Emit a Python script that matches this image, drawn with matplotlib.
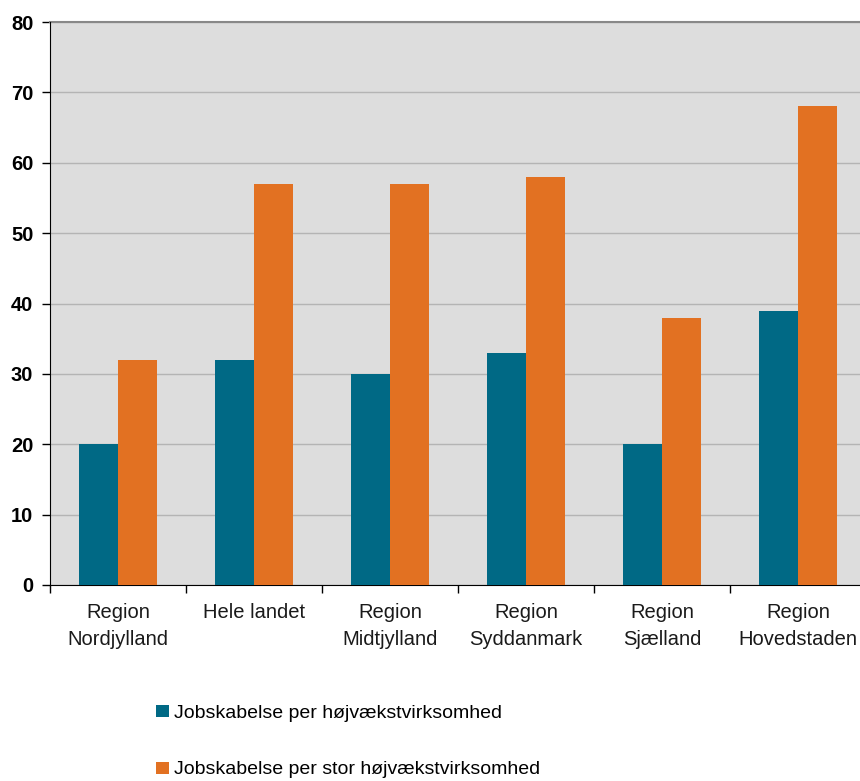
import matplotlib
matplotlib.use("Agg")
import matplotlib.pyplot as plt
import numpy as np

categories = ["Region\nNordjylland", "Hele landet", "Region\nMidtjylland",
              "Region\nSyddanmark", "Region\nSjælland", "Region\nHovedstaden"]
per_hoejvaekst = [20, 32, 30, 33, 20, 39]
per_stor_hoejvaekst = [32, 57, 57, 58, 38, 68]
series_names = ["Jobskabelse per højvækstvirksomhed",
                "Jobskabelse per stor højvækstvirksomhed"]
y_ticks = [0, 10, 20, 30, 40, 50, 60, 70, 80]

plt.rcParams['font.family'] = ['Liberation Sans', 'DejaVu Sans']

fig = plt.figure(figsize=(8.6, 7.81), dpi=100)
ax = fig.add_axes([50/860, 1-585/781, 816/860, (585-22)/781])
ax.set_facecolor('#DDDDDD')

x = np.arange(len(categories))
w = 0.29
b1 = ax.bar(x - w/2, per_hoejvaekst, width=w, color='#006985', zorder=3, label=series_names[0])
b2 = ax.bar(x + w/2, per_stor_hoejvaekst, width=w, color='#E27122', zorder=3, label=series_names[1])

ax.set_xlim(-0.5, len(categories) - 0.5)
ax.set_ylim(0, 80)
ax.set_yticks(y_ticks)
ax.set_yticklabels([str(v) for v in y_ticks], fontsize=14.5, fontweight='bold')
ax.yaxis.grid(True, color='#B4B4B4', linewidth=1, zorder=0)
ax.set_axisbelow(True)

ax.set_xticks(x)
ax.set_xticklabels(categories, fontsize=14.5, color='#1a1a1a', linespacing=1.5)
ax.tick_params(axis='x', which='major', length=0, pad=13)
ax.set_xticks(np.arange(-0.5, len(categories), 1.0), minor=True)
ax.tick_params(axis='x', which='minor', length=6, width=1, direction='out', color='black')
ax.tick_params(axis='y', length=6, width=1, direction='out', pad=6)

for s in ['top', 'right']:
    ax.spines[s].set_visible(False)
ax.spines['left'].set_color('black')
ax.spines['bottom'].set_color('black')
ax.axhline(80, color='#888888', linewidth=1.5, zorder=2, clip_on=False)

fig.legend(handles=[b1, b2], labels=series_names, loc='center left',
           bbox_to_anchor=(156/860, 1-741.5/781), frameon=False,
           fontsize=14, borderpad=0, borderaxespad=0,
           handlelength=0.67, handleheight=0.57, handletextpad=0.25,
           labelspacing=2.05)

fig.savefig('out.png', dpi=100, facecolor='white')
